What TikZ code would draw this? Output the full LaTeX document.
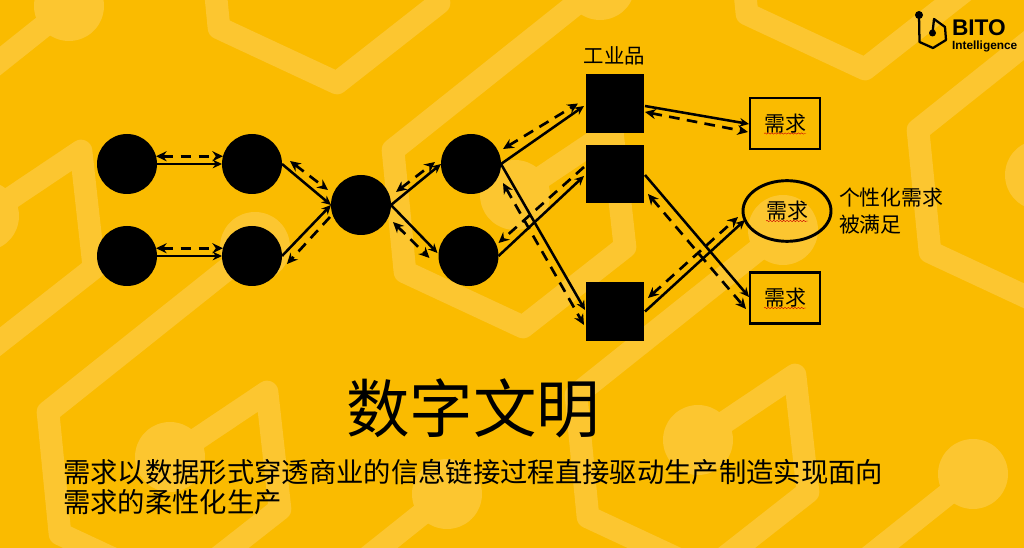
\documentclass[tikz,border=0pt]{standalone}
\usepackage{fontspec}
\setmainfont{Noto Sans CJK SC}
\newfontfamily\logofont{Liberation Sans}
\usetikzlibrary{arrows.meta,calc,shapes.geometric,decorations.pathmorphing}
\definecolor{bgc}{RGB}{250,187,0}
\definecolor{bandc}{RGB}{252,198,48}
\newcommand{\hexlogo}[2]{%
  \begin{scope}[shift={(#1,#2)}]
    \fill[bandc] (515,195) circle (35);
    \fill[bandc] (600,-15) circle (35);
    \draw[band] (515,195) -- (612,130) -- (625,247) -- (523,327) -- (405,272) -- (393,150) -- (600,-15);
  \end{scope}}
\newcommand{\redwave}[1]{\draw[wave] ($(#1.center)+(-21,10)$) -- ($(#1.center)+(21,10)$);}
\tikzset{
  x=0.75pt,y=-0.75pt,
  band/.style={draw=bandc,line width=17pt,line join=round,line cap=round},
  blackdot/.style={circle,fill=black,draw=none,minimum size=45pt,inner sep=0pt,outer sep=0pt},
  blacksq/.style={rectangle,fill=black,draw=none,minimum width=43.5pt,minimum height=44pt,inner sep=0pt,outer sep=0pt},
  needbox/.style={rectangle,draw=black,line width=1.9pt,minimum width=52.5pt,minimum height=38pt,inner sep=0pt,outer sep=0pt,font=\fontsize{15.7}{18}\selectfont},
  needoval/.style={ellipse,draw=black,line width=2.2pt,minimum width=66pt,minimum height=45.5pt,inner sep=0pt,outer sep=0pt,font=\fontsize{15.7}{18}\selectfont},
  flow/.style={draw=black,line width=1.9pt,-{Stealth[length=7pt,width=6.5pt]}},
  back/.style={draw=black,line width=2pt,dash pattern=on 8pt off 5.5pt,{Stealth[length=8pt,width=7.5pt]}-{Stealth[length=8pt,width=7.5pt]}},
  backone/.style={draw=black,line width=2pt,dash pattern=on 8pt off 5.5pt,-{Stealth[length=8pt,width=7.5pt]}},
  wave/.style={draw=red!80!black,line width=0.3pt,decorate,decoration={snake,amplitude=0.5pt,segment length=2.5pt}},
  label/.style={inner sep=0pt,outer sep=0pt,text=black},
}
\begin{document}
\begin{tikzpicture}
\useasboundingbox (0,0) rectangle (1024,548);
\fill[bgc] (0,0) rectangle (1024,548);
\begin{scope}
\clip (0,0) rectangle (1024,548);
\hexlogo{0}{0}
\hexlogo{-531}{21}
\hexlogo{-345}{262}
\hexlogo{183}{245}
\hexlogo{525}{-20}
\hexlogo{-186}{-244}
\hexlogo{342}{-258}
\hexlogo{373}{489}
\hexlogo{-153}{509}
\end{scope}

% nodes
\node[blackdot] (c1) at (127,164) {};
\node[blackdot] (c2) at (252,164) {};
\node[blackdot] (c3) at (127,256) {};
\node[blackdot] (c4) at (252,256) {};
\node[blackdot] (c5) at (361,205) {};
\node[blackdot] (c6) at (471,164) {};
\node[blackdot] (c7) at (468.5,256) {};
\node[blacksq] (s1) at (615,103.5) {};
\node[blacksq] (s2) at (615,174) {};
\node[blacksq] (s3) at (615,311.5) {};
\node[needbox] (b1) at (785,123.5) {需求};
\node[needbox] (b2) at (785,298) {需求};
\node[needoval] (ov) at (787,211) {需求};
\redwave{b1}
\redwave{b2}
\redwave{ov}

% connectors
\draw[flow] (c1.east) -- (c2.west);
\draw[back] (c1.15) -- (c2.165);
\draw[flow] (c3.east) -- (c4.west);
\draw[back] (c3.15) -- (c4.165);

\draw[flow] (c2.east) -- (c5.west);
\draw[back] ($(c2.east)+(8,-3)$) -- ($(c5.west)+(-3,-15)$);
\draw[flow] (c4.east) -- (c5.west);
\draw[backone] ($(c5.west)+(-1,12)$) -- ($(c4.east)+(5,8)$);

\draw[flow] (c5.east) -- (c6.west);
\draw[back] ($(c5.east)+(5,-13)$) -- ($(c6.west)+(-6,-2)$);
\draw[flow] (c5.east) -- ($(c7.west)+(-1,-3)$);
\draw[back] ($(c5.east)+(2,17)$) -- ($(c7.west)+(-9,2)$);

\draw[flow] (c6.east) -- ($(s1.west)+(-2,2.5)$);
\draw[back] ($(c6.east)+(2,-15)$) -- ($(s1.west)+(-8,0)$);
\draw[flow] (c7.east) -- ($(s2.west)+(-2,2)$);
\draw[backone] ($(s2.west)+(-2,-7)$) -- ($(c7.east)+(0,-13)$);
\draw[flow] (c6.east) -- ($(s3.west)+(-1,-1.5)$);
\draw[back] ($(c6.east)+(2,19)$) -- ($(s3.west)+(-2,13.5)$);

\draw[flow] ($(s1.east)+(1,2.5)$) -- ($(b1.west)+(-1,0.5)$);
\draw[back] ($(s1.east)+(1,8.5)$) -- ($(b1.west)+(-2,8.5)$);
\draw[flow] ($(s2.east)+(1,1)$) -- ($(b2.west)+(-1,-1)$);
\draw[back] ($(s2.east)+(4,20)$) -- ($(b2.west)+(-4,11)$);
\draw[flow] ($(s3.east)+(1,0)$) -- ($(ov.west)+(2,9)$);
\draw[back] ($(s3.east)+(4,-13.5)$) -- ($(ov.west)+(-5,6)$);

% texts
\node[label,font=\fontsize{15.3}{18}\selectfont] (t1) at (614.5,56) {工业品};
\node[label,anchor=west,align=left,font=\fontsize{15.7}{20.2}\selectfont] (t2) at (839,211.5) {个性化需求\\被满足};
\node[label,font=\fontsize{47.6}{52}\selectfont] (t3) at (473,408) {数字文明};
\node[label,anchor=west,align=left,font=\fontsize{20.5}{22.5}\selectfont] (t4) at (63,487) {需求以数据形式穿透商业的信息链接过程直接驱动生产制造实现面向\\需求的柔性化生产};

% logo
\fill[black] (919,15) circle (4) (932.5,33) circle (3.5);
\draw[black,line width=1.7pt,line join=round] (919,15) -- (919.5,42) -- (933,48) -- (946,40) -- (945,27) -- (934,19) -- (932.5,33);
\node[label,anchor=west,font=\logofont\bfseries\fontsize{17}{18}\selectfont] (t5) at (952,28) {BITO};
\node[label,anchor=west,font=\logofont\bfseries\fontsize{8.9}{10}\selectfont] (t6) at (952,46) {Intelligence};
\end{tikzpicture}
\end{document}
